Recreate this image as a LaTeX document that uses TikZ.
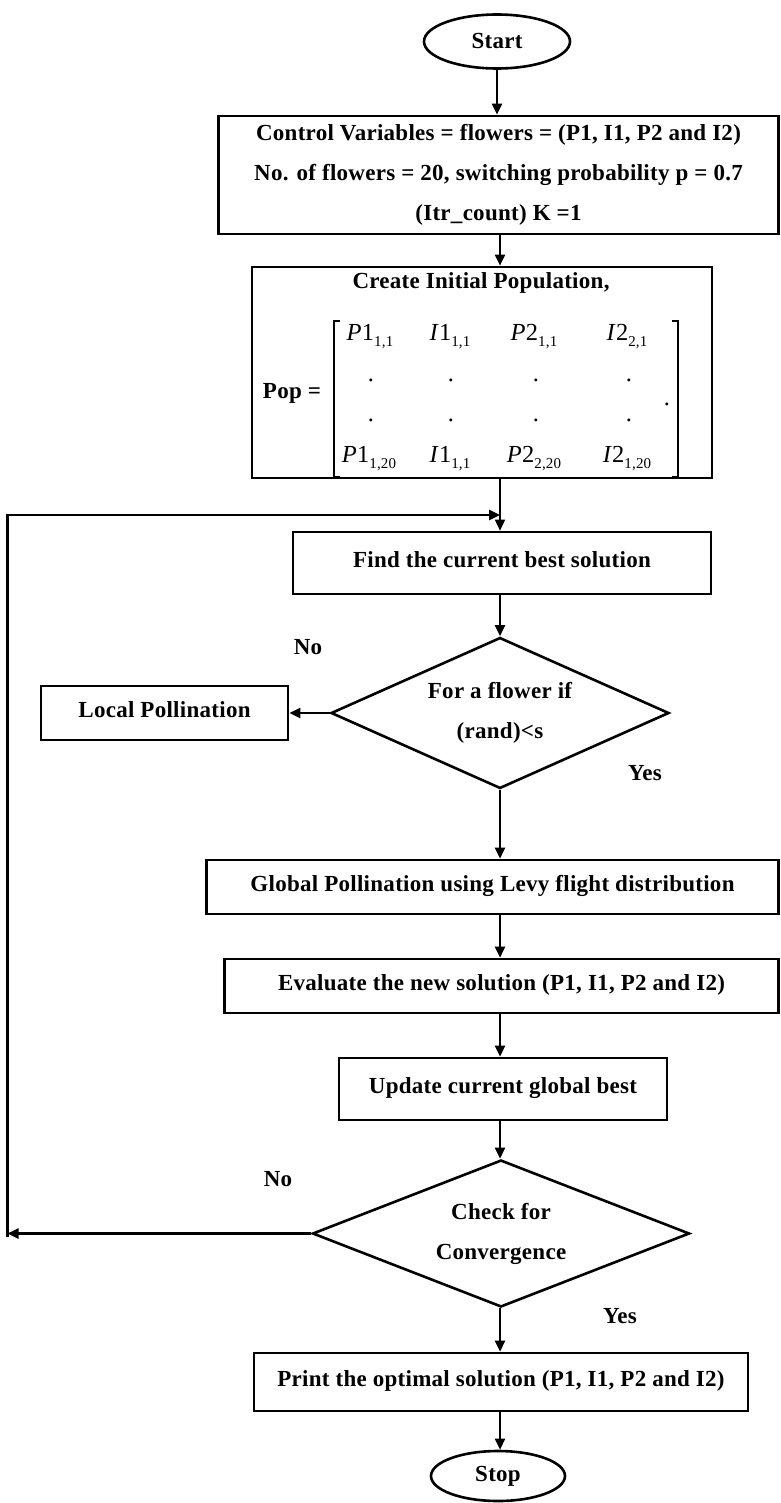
\documentclass[tikz,border=0pt]{standalone}
\usepackage{fontspec}
\setmainfont{Liberation Serif}[LetterSpace=1.2]
\usetikzlibrary{shapes.geometric,arrows.meta}
\newcommand\msub[1]{\raisebox{-6pt}{\fontsize{15}{15}\selectfont #1}}
\begin{document}
\begin{tikzpicture}[x=1pt,y=-1pt,
  every node/.style={font=\fontsize{23}{40}\selectfont\bfseries},
  procbox/.style={draw, line width=2.6pt, rectangle, inner sep=0pt, align=center},
  oneline/.style={procbox, text height=17pt, text depth=9pt},
  termin/.style={draw, ellipse, line width=2.6pt, inner sep=0pt},
  decide/.style={draw, diamond, line width=2.6pt, inner sep=0pt, aspect=2.3, align=center},
  arr/.style={line width=2.4pt, -{Triangle[length=11pt,width=10pt]}},
  lbl/.style={inner sep=0pt},
  entry/.style={font=\fontsize{24.5}{28}\selectfont\mdseries, inner sep=0pt, anchor=base},
  brk/.style={line width=1.3pt}
]
\useasboundingbox (0,0) rectangle (780,1503);
\coordinate (spine) at (500,0);

% terminals and boxes
\node[termin, minimum width=146pt, minimum height=54pt] (start) at (497,41.5) {Start};
\node[procbox, minimum width=560pt, minimum height=118pt] (box1) at (498.5,175)
  {Control Variables = flowers = (P1, I1, P2 and I2)\\
   No. of flowers = 20, switching probability p = 0.7\\
   (Itr\_count) K =1};
\node[procbox, minimum width=460pt, minimum height=211pt] (box2) at (482,372.5) {};
\node[oneline, minimum width=418pt, minimum height=62pt] (box3) at (502,563) {Find the current best solution};
\node[decide, minimum width=338pt, minimum height=151pt] (dia1) at (500,713) {For a flower if\\(rand)<s};
\node[oneline, minimum width=247pt, minimum height=54pt] (local) at (164.5,713) {Local Pollination};
\node[oneline, minimum width=572pt, minimum height=54pt] (box4) at (492.5,887) {Global Pollination using Levy flight distribution};
\node[oneline, minimum width=554pt, minimum height=54pt] (box5) at (501.5,986) {Evaluate the new solution (P1, I1, P2 and I2)};
\node[oneline, minimum width=328pt, minimum height=62pt] (box6) at (503,1089) {Update current global best};
\node[decide, minimum width=377pt, minimum height=147pt] (dia2) at (501,1233.5) {Check for\\Convergence};
\node[oneline, minimum width=494pt, minimum height=58pt] (box7) at (501,1382) {Print the optimal solution (P1, I1, P2 and I2)};
\node[termin, minimum width=134pt, minimum height=50pt] (stop) at (498,1476) {Stop};

% labels
\node[lbl] (no1) at (308,647) {No};
\node[lbl] (yes1) at (645,773) {Yes};
\node[lbl] (no2) at (278,1179) {No};
\node[lbl] (yes2) at (620,1316) {Yes};

% contents of the population box
\node[lbl] (cip) at (481,283) {Create Initial Population,};
\node[lbl] (pop) at (292,393) {Pop =};
\draw[brk] (340,321) -- (334,321) -- (334,477) -- (340,477);
\draw[brk] (672,321) -- (678,321) -- (678,477) -- (672,477);
\node[entry] (m11) at (370,340) {\textit{P}1\msub{1,1}};
\node[entry] (m12) at (450,340) {\textit{I}1\msub{1,1}};
\node[entry] (m13) at (534,340) {\textit{P}2\msub{1,1}};
\node[entry] (m14) at (627,340) {\textit{I}2\msub{2,1}};
\node[entry] (d21) at (371,381) {.};
\node[entry] (d22) at (451,381) {.};
\node[entry] (d23) at (536,381) {.};
\node[entry] (d24) at (629,381) {.};
\node[entry] (d31) at (371,421) {.};
\node[entry] (d32) at (451,421) {.};
\node[entry] (d33) at (536,421) {.};
\node[entry] (d34) at (629,421) {.};
\node[entry] (m41) at (369,462) {\textit{P}1\msub{1,20}};
\node[entry] (m42) at (450,462) {\textit{I}1\msub{1,1}};
\node[entry] (m43) at (534,462) {\textit{P}2\msub{2,20}};
\node[entry] (m44) at (627,462) {\textit{I}2\msub{1,20}};
\node[entry] (per) at (667,405) {.};

% connectors
\draw[arr] (start.south) -- (start.south |- box1.north);
\draw[arr] (spine |- box1.south) -- (spine |- box2.north);
\draw[arr, line width=1.6pt] (spine |- box2.south) -- (spine |- box3.north);
\draw[arr] (spine |- box3.south) -- (dia1.north);
\draw[arr] (dia1.west) -- (local.east);
\draw[arr] (dia1.south) -- (dia1.south |- box4.north);
\draw[arr] (spine |- box4.south) -- (spine |- box5.north);
\draw[arr] (spine |- box5.south) -- (spine |- box6.north);
\draw[arr] (spine |- box6.south) -- (spine |- dia2.north);
\draw[arr] (spine |- dia2.south) -- (spine |- box7.north);
\draw[arr] (spine |- box7.south) -- (spine |- stop.north);

% loop back
\coordinate (loopBot) at (7.5,1237);
\coordinate (loopTop) at (7.5,515);
\draw[arr] (dia2.west) -- (dia2.west -| loopBot);
\draw[arr, line width=2.6pt] (loopBot) -- (loopTop) -- (spine |- loopTop);
\end{tikzpicture}
\end{document}
